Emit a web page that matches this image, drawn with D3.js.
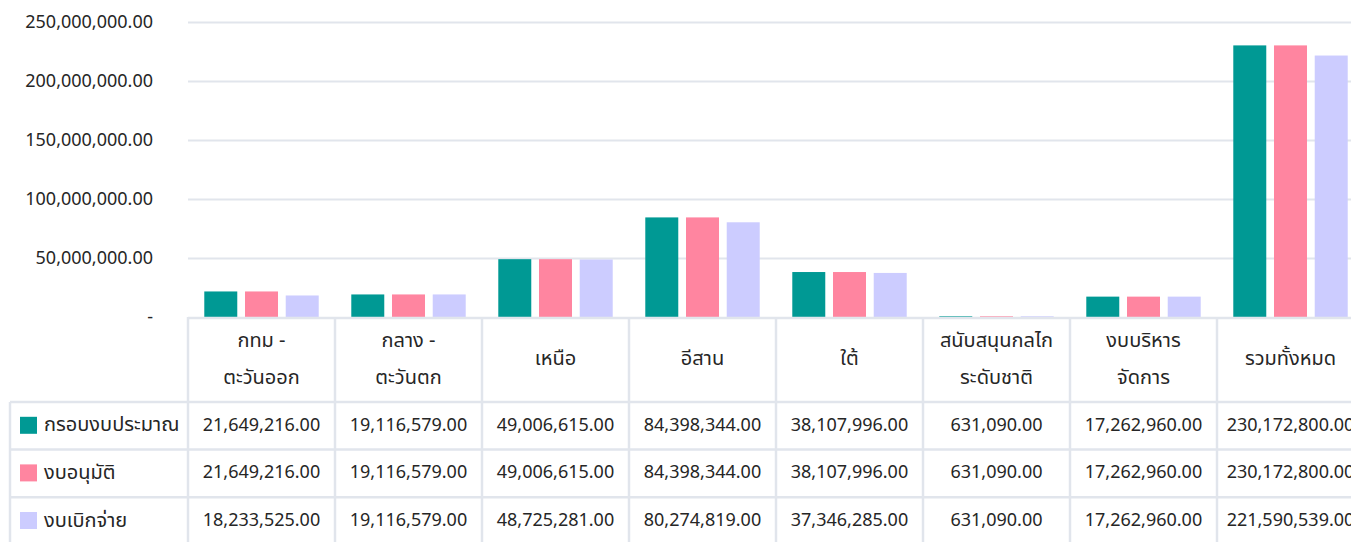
<!DOCTYPE html>
<html>
<head>
<meta charset="utf-8">
<script src="https://cdn.jsdelivr.net/npm/d3@7"></script>
<style>
	html, body { margin: 0; padding: 0; background: #fff; overflow: hidden; }
	svg { display: block; }
</style>
</head>
<body>
<div id="chart"></div>
<script>
	// categories, each one may span two lines in the table header
	var categories = [
		["กทม -", "ตะวันออก"],
		["กลาง -", "ตะวันตก"],
		["เหนือ"],
		["อีสาน"],
		["ใต้"],
		["สนับสนุนกลไก", "ระดับชาติ"],
		["งบบริหาร", "จัดการ"],
		["รวมทั้งหมด"],
	];
	var seriesNames = ["กรอบงบประมาณ", "งบอนุมัติ", "งบเบิกจ่าย"];
	var seriesColors = ["#009994", "#ff85a0", "#ccccff"];

	var budget   = [21649216, 19116579, 49006615, 84398344, 38107996, 631090, 17262960, 230172800];
	var approved = [21649216, 19116579, 49006615, 84398344, 38107996, 631090, 17262960, 230172800];
	var spent    = [18233525, 19116579, 48725281, 80274819, 37346285, 631090, 17262960, 221590539];

	var yTicks = [0, 50000000, 100000000, 150000000, 200000000, 250000000];
	var yTickLabels = ["-", "50,000,000.00", "100,000,000.00", "150,000,000.00", "200,000,000.00", "250,000,000.00"];

	var series = [budget, approved, spent];

	var width = 1351, height = 542;
	var margin = {left: 188, top: 22};
	var plotBottom = 317;
	var colWidth = 147;
	var headerBottom = 402;
	var rowHeight = 47.6;
	var gridColor = "#e1e5ec";
	var textColor = "#262626";
	var fontFamily = "'Leelawadee UI', Tahoma, 'Noto Sans Thai', 'Noto Sans', sans-serif";
	var thaiSize = "20px";
	var numSize = "18px";

	var svg = d3.select("#chart").append("svg")
		.attr("width", width)
		.attr("height", height)
		.attr("font-family", fontFamily);

	var xScale = d3.scaleBand()
		.domain(d3.range(categories.length))
		.range([margin.left, margin.left + colWidth * categories.length])
		.padding(0);

	var xInner = d3.scaleBand()
		.domain(d3.range(series.length))
		.range([0, colWidth])
		.paddingInner(0.19)
		.paddingOuter(0.4);

	var yScale = d3.scaleLinear()
		.domain([0, 250000000])
		.range([plotBottom, margin.top]);

	// gridlines
	svg.append("g")
		.selectAll("line")
		.data(yTicks.slice(1))
		.join("line")
		.attr("x1", margin.left)
		.attr("x2", width)
		.attr("y1", d => Math.round(yScale(d)) + 0.5)
		.attr("y2", d => Math.round(yScale(d)) + 0.5)
		.attr("stroke", gridColor)
		.attr("stroke-width", 2);

	// y axis labels
	var yAxis = d3.axisLeft(yScale)
		.tickValues(yTicks)
		.tickFormat((d, i) => yTickLabels[i])
		.tickSize(0)
		.tickPadding(35);
	var yAxisG = svg.append("g")
		.attr("transform", `translate(${margin.left},0)`)
		.call(yAxis)
		.attr("font-family", fontFamily)
		.attr("font-size", numSize);
	yAxisG.select(".domain").remove();
	yAxisG.selectAll("text")
		.attr("fill", textColor);

	// bars
	var groups = svg.append("g")
		.selectAll("g")
		.data(categories)
		.join("g")
		.attr("transform", (d, i) => `translate(${xScale(i)},0)`);

	groups.selectAll("rect")
		.data((d, i) => series.map((s, k) => ({k: k, v: s[i]})))
		.join("rect")
		.attr("x", d => xInner(d.k))
		.attr("width", xInner.bandwidth())
		.attr("y", d => yScale(d.v))
		.attr("height", d => plotBottom - yScale(d.v))
		.attr("fill", d => seriesColors[d.k]);

	// data table
	var table = svg.append("g");
	var tableRight = margin.left + colWidth * categories.length;

	// horizontal lines
	table.append("line")
		.attr("x1", margin.left).attr("x2", tableRight)
		.attr("y1", plotBottom + 1).attr("y2", plotBottom + 1)
		.attr("stroke", gridColor).attr("stroke-width", 2.5);
	d3.range(series.length).forEach(function(r){
		let y = headerBottom + r * rowHeight;
		table.append("line")
			.attr("x1", 10).attr("x2", tableRight)
			.attr("y1", y).attr("y2", y)
			.attr("stroke", gridColor).attr("stroke-width", 2.5);
	});

	// vertical lines
	d3.range(categories.length + 1).forEach(function(c){
		let x = margin.left + c * colWidth;
		table.append("line")
			.attr("x1", x).attr("x2", x)
			.attr("y1", plotBottom).attr("y2", height)
			.attr("stroke", gridColor).attr("stroke-width", 2.5);
	});
	table.append("line")
		.attr("x1", 10).attr("x2", 10)
		.attr("y1", headerBottom).attr("y2", height)
		.attr("stroke", gridColor).attr("stroke-width", 2.5);

	// header labels
	categories.forEach(function(lines, i){
		let cx = xScale(i) + colWidth / 2;
		let cy = (plotBottom + headerBottom) / 2;
		lines.forEach(function(line, j){
			table.append("text")
				.attr("x", cx)
				.attr("y", cy + (j - (lines.length - 1) / 2) * 37)
				.attr("text-anchor", "middle")
				.attr("dominant-baseline", "middle")
				.style("font-size", thaiSize)
				.attr("fill", textColor)
				.text(line);
		});
	});

	// rows
	var fmt = d3.format(",.2f");
	series.forEach(function(s, r){
		let cy = headerBottom + r * rowHeight + rowHeight / 2;
		table.append("rect")
			.attr("x", 20).attr("y", cy - 9)
			.attr("width", 17).attr("height", 17)
			.attr("fill", seriesColors[r]);
		table.append("text")
			.attr("x", 44).attr("y", cy)
			.attr("dominant-baseline", "middle")
			.style("font-size", thaiSize)
			.attr("fill", textColor)
			.text(seriesNames[r]);
		s.forEach(function(v, i){
			table.append("text")
				.attr("x", xScale(i) + colWidth / 2)
				.attr("y", cy)
				.attr("text-anchor", "middle")
				.attr("dominant-baseline", "middle")
				.style("font-size", numSize)
				.attr("fill", textColor)
				.text(fmt(v));
		});
	});
</script>
</body>
</html>
